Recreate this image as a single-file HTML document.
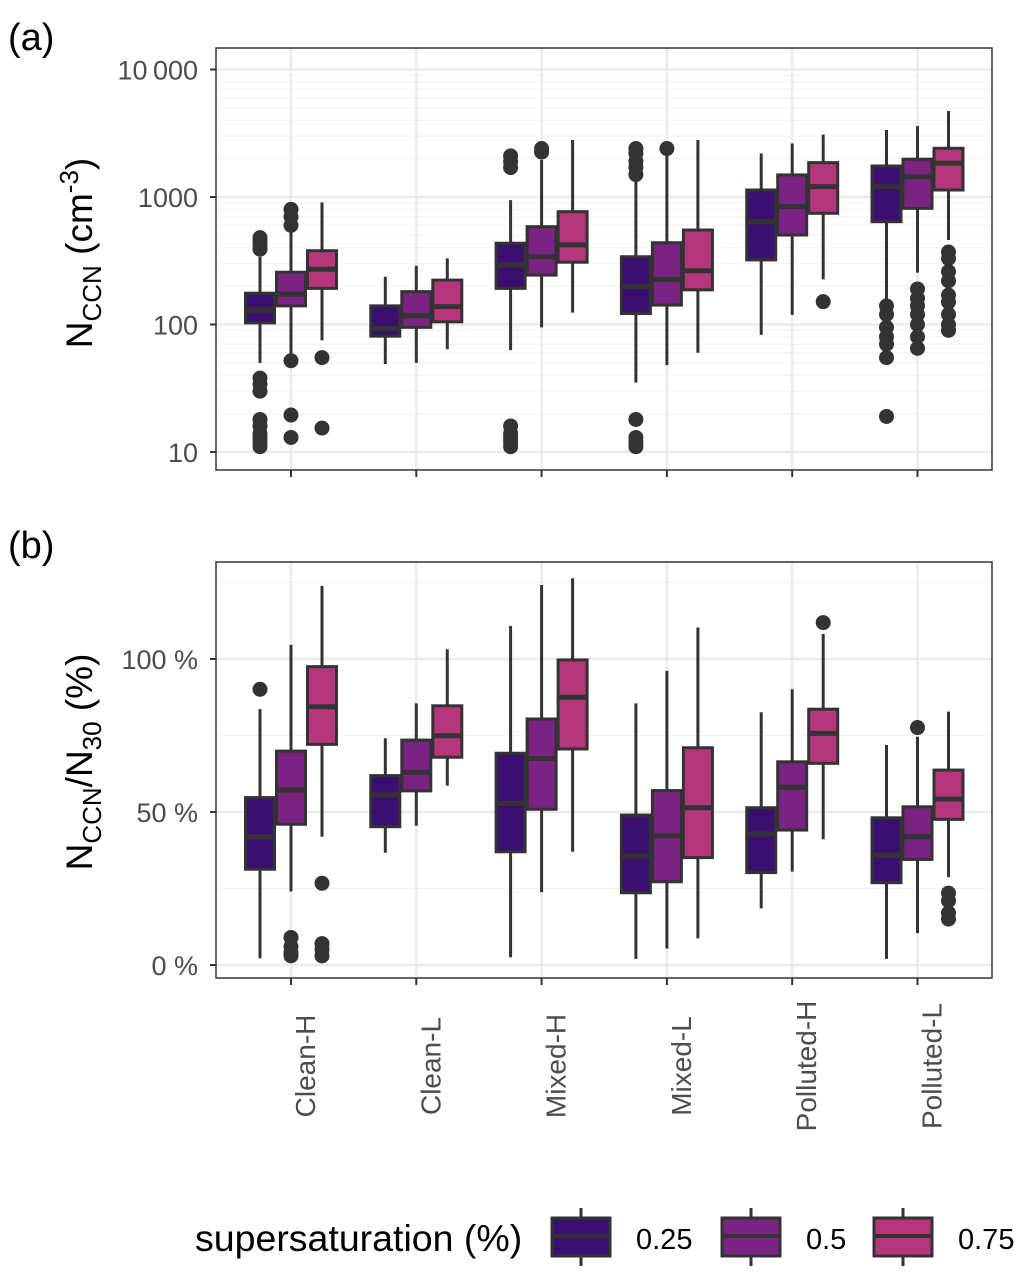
<!DOCTYPE html>
<html><head><meta charset="utf-8"><style>
body{margin:0;background:#fff;}
svg{display:block;font-family:"Liberation Sans",sans-serif;}
</style></head><body>
<svg id="chart" width="1026" height="1279" viewBox="0 0 1026 1279"></svg>
<script>
const categories=["Clean-H","Clean-L","Mixed-H","Mixed-L","Polluted-H","Polluted-L"];
const seriesNames=["0.25","0.5","0.75"];
const fills=["#3b0f70","#7b2382","#b5367a"];
// Panel a: [low, q1, median, q3, high] per category per series
const ccn025=[[50,103,130,176,340],[49,81,93,140,237],[63,192,293,434,946],[35,122,198,340,2300],[83,321,640,1135,2200],[160,640,1205,1750,3350]];
const ccn050=[[59,140,173,257,536],[50,95,117,181,289],[95,244,340,585,1950],[48,142,226,438,2140],[119,503,840,1490,2630],[255,815,1440,1980,3600]];
const ccn075=[[75,192,271,379,908],[64,105,138,223,330],[124,308,421,767,2800],[60,187,264,551,2800],[226,745,1205,1860,3090],[460,1135,1840,2410,4730]];
const ccnOut025=[[480,450,420,390,38,34,30,18,16,14,13,12,11],[],[2100,1900,1700,16,14,13,12,11],[2400,2200,1900,1700,1500,18,13,12,11],[],[140,120,95,80,70,55,19]];
const ccnOut050=[[800,700,600,52,19.5,13],[],[2400,2250],[2400],[],[190,160,140,120,100,80,65]];
const ccnOut075=[[55,15.4],[],[],[],[151],[370,330,260,220,170,150,120,100,90]];
// Panel b
const frac025=[[2.2,31.3,41.9,54.7,83.6],[36.7,45.2,55.6,61.9,74.1],[2.5,37,52.8,69.2,110.8],[2,23.6,35.6,49,85.5],[18.5,30.2,42.8,51.4,82.6],[2,26.9,35.9,48.1,71.9]];
const frac050=[[24,46,57.2,69.9,104.6],[45.5,56.9,63,73.5,85.5],[23.8,50.9,67.5,80.4,124.2],[5.4,27.2,42.2,57,96.1],[30.5,44.1,58.1,66.4,90.1],[10.4,34.5,41.9,51.7,74.6]];
const frac075=[[41.9,72.1,84.4,97.5,123.9],[58.6,67.9,74.9,84.7,103.2],[37,70.6,87.5,99.7,126.4],[8.7,35.1,51.4,71,110.3],[41.1,65.9,75.7,83.6,108.2],[28.7,47.6,54.2,63.7,82.8]];
const fracOut025=[[90.1],[],[],[],[],[]];
const fracOut050=[[9,6,4,3],[],[],[],[],[77.6]];
const fracOut075=[[26.7,7,5,3],[],[],[],[111.9],[23.5,21,17,15]];
const ticksA=[10,100,1000,10000];
const tickLabelsA=["10","100","1000","10\u2009000"];
const ticksB=[0,50,100];
const tickLabelsB=["0 %","50 %","100 %"];

const NS="http://www.w3.org/2000/svg";
const svg=document.getElementById('chart');
function el(tag,attrs,parent,text){const e=document.createElementNS(NS,tag);for(const k in attrs)e.setAttribute(k,attrs[k]);if(text!==undefined)e.textContent=text;(parent||svg).appendChild(e);return e;}

const PX0=216,PX1=992;
const catX=i=>291+i*125.3;
const dodge=[-31,0,31];
const BW=29;
const yA=v=>452-127.5*(Math.log10(v)-1);
const yB=p=>965-3.06*p;

function panel(name,top,bot,yf,majors,minors,ticks,labels,sets,outs){
  const g=el('g',{});
  
  
  minors.forEach(v=>{el('line',{x1:PX0,x2:PX1,y1:yf(v),y2:yf(v),stroke:'#f0f0f0','stroke-width':1},g);});
  majors.forEach(v=>{el('line',{x1:PX0,x2:PX1,y1:yf(v),y2:yf(v),stroke:'#ebebeb','stroke-width':2.5},g);});
  categories.forEach((c,i)=>{el('line',{x1:catX(i),x2:catX(i),y1:top,y2:bot,stroke:'#ebebeb','stroke-width':2.5},g);});
  sets.forEach((set,s)=>{
    set.forEach((d,i)=>{
      const cx=catX(i)+dodge[s];
      const bg=el('g',{},g);
      
      
      el('line',{x1:cx,x2:cx,y1:yf(d[0]),y2:yf(d[4]),stroke:'#333','stroke-width':3},bg);
      el('rect',{x:cx-BW/2,y:yf(d[3]),width:BW,height:yf(d[1])-yf(d[3]),fill:fills[s],stroke:'#333','stroke-width':3},bg);
      el('line',{x1:cx-BW/2,x2:cx+BW/2,y1:yf(d[2]),y2:yf(d[2]),stroke:'#333','stroke-width':5},bg);
      outs[s][i].forEach(v=>{const o=el('circle',{cx:cx,cy:yf(v),r:7.5,fill:'#333'},bg);
        
        });
    });
  });
  el('rect',{x:PX0,y:top,width:PX1-PX0,height:bot-top,fill:'none',stroke:'#333','stroke-width':1.5},g);
  ticks.forEach((v,k)=>{
    el('line',{x1:PX0-6,x2:PX0,y1:yf(v),y2:yf(v),stroke:'#333','stroke-width':2},g);
    const t=el('text',{x:PX0-18,y:yf(v)+10,'text-anchor':'end','font-size':27,fill:'#4d4d4d'},g,labels[k]);
    
    
  });
  categories.forEach((c,i)=>{el('line',{x1:catX(i),x2:catX(i),y1:bot,y2:bot+7,stroke:'#333','stroke-width':2},g);});
}
const minorA=[];[10,100,1000].forEach(d=>{for(let m=2;m<=9;m++)minorA.push(d*m);});
panel('panel-a-ccn',48,470,yA,ticksA,minorA,ticksA,tickLabelsA,[ccn025,ccn050,ccn075],[ccnOut025,ccnOut050,ccnOut075]);
panel('panel-b-fraction',562,978,yB,ticksB,[25,75,125],ticksB,tickLabelsB,[frac025,frac050,frac075],[fracOut025,fracOut050,fracOut075]);

let t;
t=el('text',{x:8,y:50,'font-size':38,fill:'#000'},svg,'(a)');

t=el('text',{x:8,y:558,'font-size':38,fill:'#000'},svg,'(b)');


t=el('text',{transform:'translate(92,253) rotate(-90)','text-anchor':'middle','font-size':37,fill:'#000'});
t.innerHTML='N<tspan font-size="26" dy="9">CCN</tspan><tspan dy="-9"> (cm</tspan><tspan font-size="26" dy="-14">-3</tspan><tspan dy="14">)</tspan>';

t=el('text',{transform:'translate(92,762) rotate(-90)','text-anchor':'middle','font-size':37,fill:'#000'});
t.innerHTML='N<tspan font-size="26" dy="9">CCN</tspan><tspan dy="-9">/N</tspan><tspan font-size="26" dy="9">30</tspan><tspan dy="-9"> (%)</tspan>';


categories.forEach((c,i)=>{
  const x=el('text',{transform:`translate(${catX(i)+24},1066) rotate(-90)`,'text-anchor':'middle','font-size':28,fill:'#4d4d4d'},svg,c);
  
  
});

t=el('text',{x:195,y:1251,'font-size':37.5,fill:'#000'},svg,'supersaturation (%)');

const legX=[552,722,874];
seriesNames.forEach((s,k)=>{
  const g=el('g',{});
  
  
  const x=legX[k],cx=x+29;
  el('line',{x1:cx,x2:cx,y1:1208,y2:1266,stroke:'#333','stroke-width':3},g);
  el('rect',{x:x,y:1218,width:58,height:38,fill:fills[k],stroke:'#333','stroke-width':3},g);
  el('line',{x1:x,x2:x+58,y1:1236,y2:1236,stroke:'#333','stroke-width':4},g);
  el('text',{x:x+84,y:1249,'font-size':29,fill:'#000'},g,s);
});
</script>
</body></html>
